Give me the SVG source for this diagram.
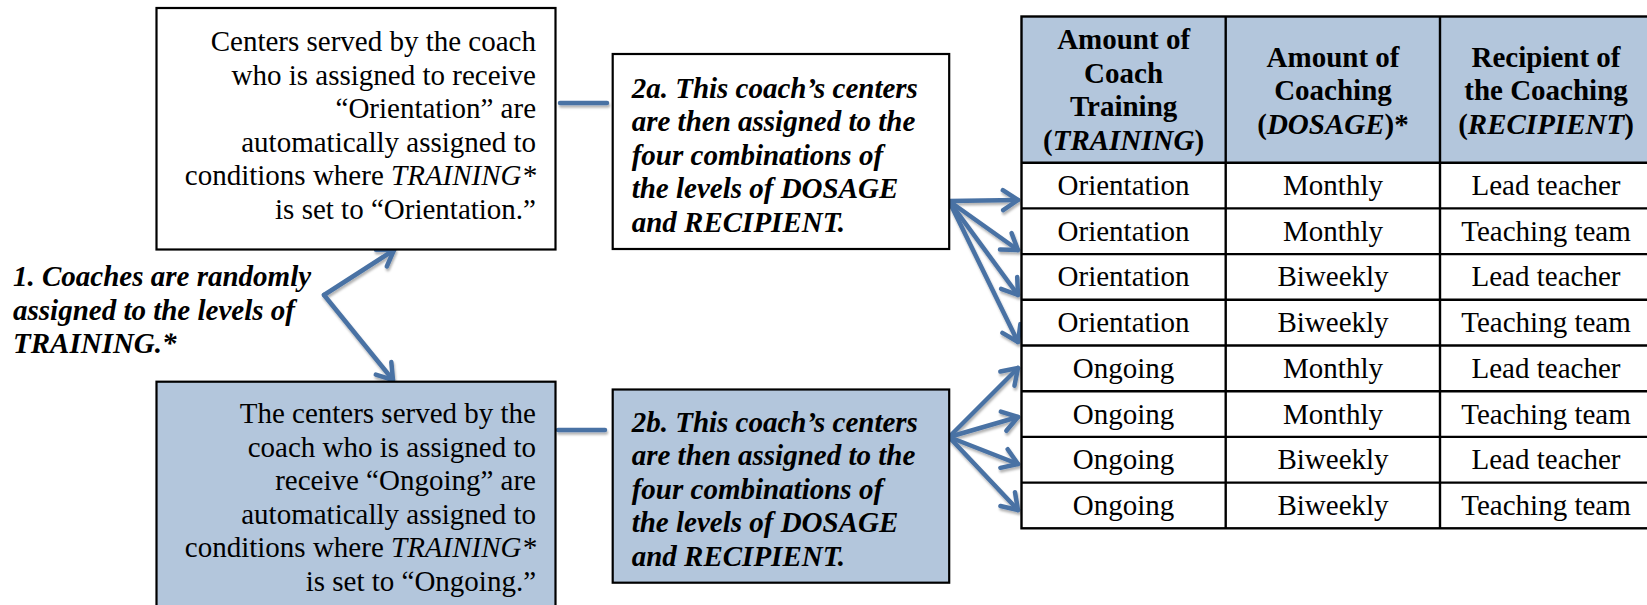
<svg xmlns="http://www.w3.org/2000/svg" width="1647" height="605" viewBox="0 0 1647 605">
<style>
.t{font-family:"Liberation Serif","Times New Roman",serif;font-size:29px;fill:#000}
.r{text-anchor:end}
.c{text-anchor:middle}
.b{font-weight:bold}
.bi{font-weight:bold;font-style:italic}
.i{font-style:italic}
.box{stroke:#000;stroke-width:2.2}
.w{fill:#fff}
.blue{fill:#B3C6DC}
.grid{stroke:#000;stroke-width:2.4;fill:none}
.con{stroke:#4A72A4;stroke-width:4.5;fill:none;stroke-linecap:round;stroke-linejoin:round}
</style>
<defs>
<filter id="sh" x="-20%" y="-20%" width="140%" height="140%">
<feDropShadow dx="1" dy="2.5" stdDeviation="1" flood-color="#000" flood-opacity="0.3"/>
</filter>
<marker id="ah" markerUnits="userSpaceOnUse" markerWidth="30" markerHeight="30" viewBox="-20 -15 30 30" refX="0" refY="0" orient="auto" overflow="visible">
<path d="M-15,-10 L0,0 L-15,10" fill="none" stroke="#4A72A4" stroke-width="4.5" stroke-linecap="round" stroke-linejoin="round"/>
</marker>
</defs>
<rect width="1647" height="605" fill="#fff"/>

<g id="connectors" filter="url(#sh)">
<path class="con" d="M560,103 L607,103"/>
<path class="con" d="M558,430 L605,430"/>
<path class="con" d="M324,295 L394,250" marker-end="url(#ah)"/>
<path class="con" d="M324,295 L393,380" marker-end="url(#ah)"/>
<path class="con" d="M949,201 L1018,200" marker-end="url(#ah)"/>
<path class="con" d="M949,201 L1018,250" marker-end="url(#ah)"/>
<path class="con" d="M949,201 L1018,295" marker-end="url(#ah)"/>
<path class="con" d="M949,201 L1018,342" marker-end="url(#ah)"/>
<path class="con" d="M949,437 L1018,368" marker-end="url(#ah)"/>
<path class="con" d="M949,437 L1018,417" marker-end="url(#ah)"/>
<path class="con" d="M949,437 L1018,464" marker-end="url(#ah)"/>
<path class="con" d="M949,437 L1018,510" marker-end="url(#ah)"/>
</g>

<g id="label1">
<text class="t bi" x="13" y="286">1. Coaches are randomly</text>
<text class="t bi" x="13" y="319.5">assigned to the levels of</text>
<text class="t bi" x="13" y="353">TRAINING.*</text>
</g>

<g id="box-orientation">
<rect class="box w" x="156.5" y="8" width="399" height="241.5"/>
<text class="t r" x="536" y="51">Centers served by the coach</text>
<text class="t r" x="536" y="84.5">who is assigned to receive</text>
<text class="t r" x="536" y="118">“Orientation” are</text>
<text class="t r" x="536" y="151.5">automatically assigned to</text>
<text class="t r" x="536" y="185">conditions where <tspan class="i">TRAINING*</tspan></text>
<text class="t r" x="536" y="218.5">is set to “Orientation.”</text>
</g>

<g id="box-ongoing">
<rect class="box blue" x="156.5" y="381.7" width="399" height="240"/>
<text class="t r" x="536" y="423">The centers served by the</text>
<text class="t r" x="536" y="456.5">coach who is assigned to</text>
<text class="t r" x="536" y="490">receive “Ongoing” are</text>
<text class="t r" x="536" y="523.5">automatically assigned to</text>
<text class="t r" x="536" y="557">conditions where <tspan class="i">TRAINING*</tspan></text>
<text class="t r" x="536" y="590.5">is set to “Ongoing.”</text>
</g>

<g id="box-2a">
<rect class="box w" x="612.7" y="54" width="336.5" height="195"/>
<text class="t bi" x="631.7" y="97.7">2a. This coach’s centers</text>
<text class="t bi" x="631.7" y="131">are then assigned to the</text>
<text class="t bi" x="631.7" y="164.5">four combinations of</text>
<text class="t bi" x="631.7" y="198">the levels of DOSAGE</text>
<text class="t bi" x="631.7" y="231.5">and RECIPIENT.</text>
</g>

<g id="box-2b">
<rect class="box blue" x="612.7" y="389.5" width="336.5" height="193.2"/>
<text class="t bi" x="631.7" y="431.7">2b. This coach’s centers</text>
<text class="t bi" x="631.7" y="465">are then assigned to the</text>
<text class="t bi" x="631.7" y="498.5">four combinations of</text>
<text class="t bi" x="631.7" y="532">the levels of DOSAGE</text>
<text class="t bi" x="631.7" y="565.5">and RECIPIENT.</text>
</g>

<g id="table">
<rect x="1021.5" y="16.5" width="631" height="146.2" fill="#B3C6DC"/>
<rect x="1021.5" y="162.7" width="631" height="365.6" fill="#fff"/>
<g class="grid">
<rect x="1021.5" y="16.5" width="631" height="511.8"/>
<line x1="1225.7" y1="16.5" x2="1225.7" y2="528.3"/>
<line x1="1440" y1="16.5" x2="1440" y2="528.3"/>
<line x1="1021.5" y1="162.7" x2="1652.5" y2="162.7"/>
<line x1="1021.5" y1="208.4" x2="1652.5" y2="208.4"/>
<line x1="1021.5" y1="254.1" x2="1652.5" y2="254.1"/>
<line x1="1021.5" y1="299.8" x2="1652.5" y2="299.8"/>
<line x1="1021.5" y1="345.5" x2="1652.5" y2="345.5"/>
<line x1="1021.5" y1="391.2" x2="1652.5" y2="391.2"/>
<line x1="1021.5" y1="436.9" x2="1652.5" y2="436.9"/>
<line x1="1021.5" y1="482.6" x2="1652.5" y2="482.6"/>
</g>
<g id="header">
<text class="t b c" x="1123.6" y="49.3">Amount of</text>
<text class="t b c" x="1123.6" y="82.8">Coach</text>
<text class="t b c" x="1123.6" y="116.3">Training</text>
<text class="t b c" x="1123.6" y="149.8">(<tspan class="i">TRAINING</tspan>)</text>
<text class="t b c" x="1333" y="66.5">Amount of</text>
<text class="t b c" x="1333" y="100">Coaching</text>
<text class="t b c" x="1333" y="133.5">(<tspan class="i">DOSAGE</tspan>)*</text>
<text class="t b c" x="1546" y="66.5">Recipient of</text>
<text class="t b c" x="1546" y="100">the Coaching</text>
<text class="t b c" x="1546" y="133.5">(<tspan class="i">RECIPIENT</tspan>)</text>
</g>
<g id="row1"><text class="t c" x="1123.6" y="195">Orientation</text><text class="t c" x="1333" y="195">Monthly</text><text class="t c" x="1546" y="195">Lead teacher</text></g>
<g id="row2"><text class="t c" x="1123.6" y="240.7">Orientation</text><text class="t c" x="1333" y="240.7">Monthly</text><text class="t c" x="1546" y="240.7">Teaching team</text></g>
<g id="row3"><text class="t c" x="1123.6" y="286.4">Orientation</text><text class="t c" x="1333" y="286.4">Biweekly</text><text class="t c" x="1546" y="286.4">Lead teacher</text></g>
<g id="row4"><text class="t c" x="1123.6" y="332.1">Orientation</text><text class="t c" x="1333" y="332.1">Biweekly</text><text class="t c" x="1546" y="332.1">Teaching team</text></g>
<g id="row5"><text class="t c" x="1123.6" y="377.8">Ongoing</text><text class="t c" x="1333" y="377.8">Monthly</text><text class="t c" x="1546" y="377.8">Lead teacher</text></g>
<g id="row6"><text class="t c" x="1123.6" y="423.5">Ongoing</text><text class="t c" x="1333" y="423.5">Monthly</text><text class="t c" x="1546" y="423.5">Teaching team</text></g>
<g id="row7"><text class="t c" x="1123.6" y="469.2">Ongoing</text><text class="t c" x="1333" y="469.2">Biweekly</text><text class="t c" x="1546" y="469.2">Lead teacher</text></g>
<g id="row8"><text class="t c" x="1123.6" y="514.9">Ongoing</text><text class="t c" x="1333" y="514.9">Biweekly</text><text class="t c" x="1546" y="514.9">Teaching team</text></g>
</g>
</svg>
